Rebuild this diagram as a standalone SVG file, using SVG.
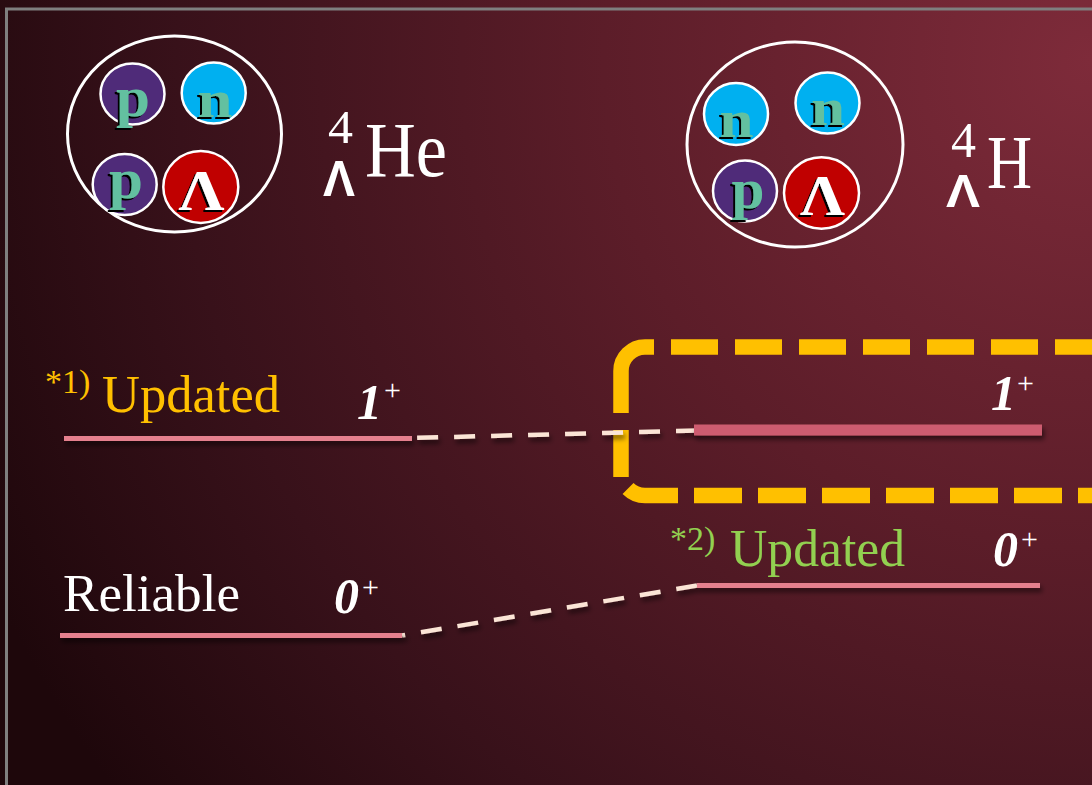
<svg xmlns="http://www.w3.org/2000/svg" width="1092" height="785" viewBox="0 0 1092 785">
  <defs>
    <radialGradient id="bg" cx="1092" cy="60" r="1220" gradientUnits="userSpaceOnUse">
      <stop offset="0" stop-color="#7e2b3a"/>
      <stop offset="0.4" stop-color="#5c1d29"/>
      <stop offset="0.75" stop-color="#38111a"/>
      <stop offset="1" stop-color="#1e070b"/>
    </radialGradient>
    <filter id="shadow" filterUnits="userSpaceOnUse" x="0" y="0" width="1092" height="785">
      <feDropShadow dx="2" dy="4" stdDeviation="2.5" flood-color="#000" flood-opacity="0.55"/>
    </filter>
    <filter id="glyphShadow" x="-20%" y="-20%" width="140%" height="140%">
      <feDropShadow dx="-2" dy="2" stdDeviation="0.3" flood-color="#000" flood-opacity="1"/>
    </filter>
  </defs>
  <style>
    .shell { fill: none; stroke: #ffffff; stroke-width: 3; }
    .proton { fill: #4f2b79; stroke: #ffffff; stroke-width: 2.5; }
    .neutron { fill: #00b0f0; stroke: #ffffff; stroke-width: 2.5; }
    .lambda { fill: #c00000; stroke: #ffffff; stroke-width: 2.5; }
    .nuc { font-family: "Liberation Serif", serif; font-weight: bold; fill: #63c0a0; text-anchor: middle; filter: url(#glyphShadow); }
    .lam { font-family: "Liberation Serif", serif; font-weight: bold; font-size: 56px; fill: #ffffff; text-anchor: middle; filter: url(#glyphShadow); }
    .sym { font-family: "Liberation Serif", serif; fill: #ffffff; }
    .sub { font-family: "Liberation Sans", sans-serif; font-weight: bold; fill: #ffffff; }
    .label { font-family: "Liberation Serif", serif; font-size: 53px; }
    .note { font-family: "Liberation Serif", serif; font-size: 34px; }
    .spin { font-family: "Liberation Serif", serif; font-weight: bold; font-style: italic; font-size: 50px; fill: #ffffff; }
    .plus { font-family: "Liberation Serif", serif; font-size: 30px; fill: #ffffff; }
    .level { fill: #e5808e; filter: url(#shadow); }
    .link { fill: none; stroke: #fbe5d6; stroke-width: 4.5; stroke-dasharray: 21 16; filter: url(#shadow); }
    .frame { fill: none; stroke: #ffc000; stroke-width: 15.5; }
  </style>

  <!-- backdrop and frame line -->
  <rect x="0" y="0" width="1092" height="785" fill="url(#bg)"/>
  <rect x="6.5" y="9" width="1100" height="790" fill="none" stroke="#7f7f7f" stroke-width="3"/>

  <!-- hypernucleus: Lambda-4 helium -->
  <g id="he4-nucleus">
    <ellipse class="shell" cx="174.5" cy="134" rx="107" ry="98"/>
    <ellipse class="proton" cx="132.5" cy="94" rx="32" ry="30.5"/>
    <text class="nuc" x="133" y="116" font-size="58" textLength="34" lengthAdjust="spacingAndGlyphs">p</text>
    <ellipse class="neutron" cx="213.7" cy="93" rx="32" ry="30.5"/>
    <text class="nuc" x="215" y="117" font-size="52" textLength="35" lengthAdjust="spacingAndGlyphs">n</text>
    <ellipse class="proton" cx="124.7" cy="184.5" rx="32" ry="30.5"/>
    <text class="nuc" x="126" y="198" font-size="58" textLength="34" lengthAdjust="spacingAndGlyphs">p</text>
    <ellipse class="lambda" cx="200.8" cy="187" rx="37.5" ry="36"/>
    <text class="lam" x="201.5" y="210" textLength="46" lengthAdjust="spacingAndGlyphs">Λ</text>
  </g>
  <g id="he4-symbol">
    <text class="sym" x="328" y="143" font-size="47" textLength="25" lengthAdjust="spacingAndGlyphs">4</text>
    <text class="sub" x="323" y="196" font-size="50" textLength="32" lengthAdjust="spacingAndGlyphs">Λ</text>
    <text class="sym" x="365" y="176" font-size="78" textLength="82" lengthAdjust="spacingAndGlyphs">He</text>
  </g>

  <!-- hypernucleus: Lambda-4 hydrogen -->
  <g id="h4-nucleus">
    <ellipse class="shell" cx="795" cy="144.5" rx="108" ry="102.5"/>
    <ellipse class="neutron" cx="736" cy="114" rx="32" ry="31"/>
    <text class="nuc" x="736.5" y="137" font-size="52" textLength="34" lengthAdjust="spacingAndGlyphs">n</text>
    <ellipse class="neutron" cx="827.5" cy="103" rx="32" ry="30.5"/>
    <text class="nuc" x="828" y="125" font-size="52" textLength="34" lengthAdjust="spacingAndGlyphs">n</text>
    <ellipse class="proton" cx="745" cy="191" rx="32" ry="30.5"/>
    <text class="nuc" x="748" y="208" font-size="58" textLength="33" lengthAdjust="spacingAndGlyphs">p</text>
    <ellipse class="lambda" cx="821.5" cy="193" rx="37.5" ry="35.7"/>
    <text class="lam" x="822.5" y="215" textLength="45" lengthAdjust="spacingAndGlyphs">Λ</text>
  </g>
  <g id="h4-symbol">
    <text class="sym" x="951" y="157" font-size="50" textLength="25" lengthAdjust="spacingAndGlyphs">4</text>
    <text class="sub" x="946" y="207" font-size="46" textLength="34" lengthAdjust="spacingAndGlyphs">Λ</text>
    <text class="sym" x="987" y="188" font-size="77" textLength="45" lengthAdjust="spacingAndGlyphs">H</text>
  </g>

  <!-- highlight frame around the updated 1+ level -->
  <g id="highlight-frame">
    <path class="frame" d="M621,413 V371 A24,24 0 0 1 645,347 H654"/>
    <line class="frame" x1="671" y1="347" x2="1130" y2="347" stroke-dasharray="47 17"/>
    <line class="frame" x1="621" y1="430" x2="621" y2="477"/>
    <path class="frame" d="M628.03,488.47 A24,24 0 0 0 645,495.5 H678"/>
    <line class="frame" x1="694" y1="495.5" x2="1130" y2="495.5" stroke-dasharray="48 16"/>
  </g>

  <!-- dashed correspondences between levels -->
  <g id="connectors">
    <path class="link" d="M697,430.5 L412,438"/>
    <path class="link" d="M697,585.5 L402,635.5"/>
  </g>

  <!-- Lambda-4 He levels -->
  <g id="he4-level-1plus">
    <rect class="level" x="64" y="436" width="348" height="5"/>
    <text class="note" x="45" y="393" fill="#ffc000">*1)</text>
    <text class="label" x="102" y="412" fill="#ffc000" textLength="178" lengthAdjust="spacingAndGlyphs">Updated</text>
    <text class="spin" x="357" y="419">1</text>
    <text class="plus" x="384" y="400">+</text>
  </g>
  <g id="he4-level-0plus">
    <rect class="level" x="60" y="633" width="342" height="5"/>
    <text class="label" x="63" y="611" fill="#ffffff" textLength="177" lengthAdjust="spacingAndGlyphs">Reliable</text>
    <text class="spin" x="334" y="613">0</text>
    <text class="plus" x="362" y="597">+</text>
  </g>

  <!-- Lambda-4 H levels -->
  <g id="h4-level-1plus">
    <rect class="level" x="694" y="424.5" width="348" height="11" fill="#cd5c6f" style="fill:#cd5c6f"/>
    <text class="spin" x="991" y="410">1</text>
    <text class="plus" x="1017" y="393">+</text>
  </g>
  <g id="h4-level-0plus">
    <rect class="level" x="697" y="583" width="343" height="5"/>
    <text class="note" x="670" y="550" fill="#92d050">*2)</text>
    <text class="label" x="730" y="566" fill="#92d050" textLength="175" lengthAdjust="spacingAndGlyphs">Updated</text>
    <text class="spin" x="993" y="566">0</text>
    <text class="plus" x="1021" y="549">+</text>
  </g>
</svg>
